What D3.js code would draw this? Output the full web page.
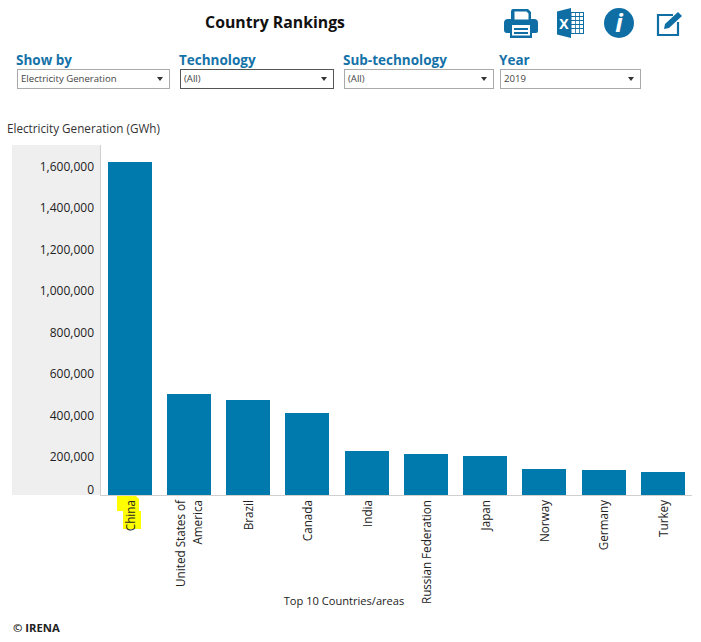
<!DOCTYPE html>
<html>
<head>
<meta charset="utf-8">
<title>Country Rankings</title>
<script src="https://cdn.jsdelivr.net/npm/d3@7/dist/d3.min.js"></script>
<style>
  html, body { margin: 0; padding: 0; background: #fff; }
  svg { display: block; }
  text { font-family: "Open Sans", sans-serif; }
</style>
</head>
<body>
<svg id="chart" width="701" height="642"></svg>
<script>
// Renewable electricity generation, top 10 countries/areas, GWh
const countries = ["China", "United States of America", "Brazil", "Canada", "India",
                   "Russian Federation", "Japan", "Norway", "Germany", "Turkey"];
const generation = [1605000, 487000, 458000, 395000, 212000, 198000, 188000, 125000, 120000, 111000];
const yTickValues = [0, 200000, 400000, 600000, 800000, 1000000, 1200000, 1400000, 1600000];

// Filter controls above the chart
const filterLabels = ["Show by", "Technology", "Sub-technology", "Year"];
const filterValues = ["Electricity Generation", "(All)", "(All)", "2019"];
const filterLefts = [17, 180, 344, 500];
const filterRights = [170, 334, 494, 641];

const BAR = "#0079ad", ICON = "#0f6fa5", HEAD = "#1572a8", INK = "#222";

const svg = d3.select("#chart");

const x = d3.scaleBand().domain(countries).range([100.3, 692.3])
  .paddingInner(0.257).paddingOuter(0.128);
const y = d3.scaleLinear().domain([0, 1686000]).range([495, 145]);

// Title
svg.append("text").attr("x", 275).attr("y", 28).attr("text-anchor", "middle")
  .attr("font-size", 15.8).attr("font-weight", 700).attr("fill", "#111").text("Country Rankings");

// Filters
const filter = svg.append("g").selectAll("g").data(filterLabels).join("g");
filter.append("text").attr("x", (d, i) => filterLefts[i] - 1).attr("y", 65)
  .attr("font-size", 13.5).attr("font-weight", 700).attr("fill", HEAD).text(d => d);
filter.append("rect")
  .attr("x", (d, i) => filterLefts[i] + 0.5).attr("y", 69.5)
  .attr("width", (d, i) => filterRights[i] - filterLefts[i] - 1).attr("height", 19)
  .attr("fill", "#fff").attr("stroke", (d, i) => i === 1 ? "#555" : "#aaa");
filter.append("text").attr("x", (d, i) => filterLefts[i] + 4).attr("y", 82)
  .attr("font-size", 9.6).attr("fill", "#444").text((d, i) => filterValues[i]);
filter.append("path")
  .attr("d", (d, i) => {
    const cx = filterRights[i] - 10;
    return `M${cx - 3},77 h6 l-3,4 z`;
  })
  .attr("fill", "#333");

// Toolbar icons
const icons = svg.append("g").attr("fill", ICON);
icons.append("path").attr("fill-rule", "evenodd").attr("d",
  "M513,9 h15 l3,3 v7 h3 q4,0 4,4 v8 q0,2 -2,2 h-4 v5 h-22 v-5 h-3 q-3,0 -3,-3 v-7 q0,-4 4,-4 h3 v-7 q0,-3 2,-3 z" +
  "M514.5,11.5 v8 h14 v-6 l-2,-2 z M512,25 v10.5 h18 v-10.5 z");
icons.append("rect").attr("x", 514).attr("y", 28).attr("width", 14).attr("height", 2);
icons.append("rect").attr("x", 514).attr("y", 32).attr("width", 14).attr("height", 2);
icons.append("path").attr("d", "M557,11.5 l14,-3.5 v30 l-14,-3.5 z");
icons.append("rect").attr("x", 571).attr("y", 12.5).attr("width", 12.5).attr("height", 21)
  .attr("fill", "#fff").attr("stroke", ICON).attr("stroke-width", 1);
[16.5, 20.5, 24.5, 28.5].forEach(v => icons.append("line").attr("x1", 571).attr("x2", 584).attr("y1", v).attr("y2", v)
  .attr("stroke", ICON).attr("stroke-width", 1));
[575.5, 579.5].forEach(v => icons.append("line").attr("x1", v).attr("x2", v).attr("y1", 12).attr("y2", 34)
  .attr("stroke", ICON).attr("stroke-width", 0.8));
icons.append("text").attr("x", 564).attr("y", 28.5).attr("text-anchor", "middle")
  .attr("font-size", 14).attr("font-weight", 700).attr("fill", "#fff").text("X");
icons.append("circle").attr("cx", 619).attr("cy", 23).attr("r", 15);
icons.append("text").attr("x", 619).attr("y", 32).attr("text-anchor", "middle")
  .attr("font-family", "Liberation Serif, serif").attr("font-size", 25).attr("font-weight", 700)
  .attr("font-style", "italic").attr("fill", "#fff").text("i");
icons.append("path").attr("fill", "none").attr("stroke", ICON).attr("stroke-width", 2.2)
  .attr("d", "M673,15 h-15 v20 h20 v-13");
icons.append("path").attr("d", "M665,24 l13,-12 l4,4 l-13,12 l-5,1 z");

// Shaded panel behind the value axis
svg.append("rect").attr("x", 12).attr("y", 145).attr("width", 88).attr("height", 350).attr("fill", "#efefef");

// Bars
svg.append("g").attr("shape-rendering", "crispEdges").selectAll("rect").data(countries).join("rect")
  .attr("x", d => x(d)).attr("width", x.bandwidth())
  .attr("y", (d, i) => y(generation[i]))
  .attr("height", (d, i) => y(0) - y(generation[i]))
  .attr("fill", BAR);

// Axis rules
svg.append("line").attr("x1", 100.5).attr("x2", 100.5).attr("y1", 145).attr("y2", 495.5)
  .attr("stroke", "#d0d0d0");
svg.append("line").attr("x1", 100).attr("x2", 692).attr("y1", 495.5).attr("y2", 495.5)
  .attr("stroke", "#d0d0d0");

// Value axis: labels sit just below their gridline, with zero kept above the baseline
const yAxis = d3.axisLeft(y).tickValues(yTickValues).tickSize(0).tickPadding(0)
  .tickFormat(d3.format(","));
const yG = svg.append("g").attr("transform", "translate(94,0)").call(yAxis);
yG.select(".domain").remove();
yG.selectAll("text").attr("font-size", 12).attr("fill", INK)
  .attr("font-family", '"Open Sans", sans-serif')
  .attr("dy", "0.32em")
  .attr("y", d => d === 0 ? -5 : 3.5);

svg.append("text").attr("x", 7).attr("y", 133).attr("font-size", 11.7).attr("fill", "#333")
  .text("Electricity Generation (GWh)");

// Yellow marker strokes behind the first category label
svg.append("path").attr("fill", "#ffff00")
  .attr("d", "M117,496 h19 l3,3 v12 h2 v18 h-18 v-18 h-6 z");

// Category labels, read upward and wrapped to two lines when long
const wrapLines = d => d === "United States of America" ? ["United States of", "America"] : [d];
const lineGap = 17;
const xLabels = svg.append("g").selectAll("text").data(countries).join("text")
  .attr("transform", d => {
    const cx = x(d) + x.bandwidth() / 2;
    return `translate(${cx + 0.7},500) rotate(-90)`;
  })
  .attr("text-anchor", "end").attr("font-size", 11.7).attr("fill", INK);
xLabels.each(function (d) {
  const lines = wrapLines(d);
  d3.select(this).selectAll("tspan").data(lines).join("tspan")
    .attr("x", 0)
    .attr("y", (l, i) => (i - (lines.length - 1) / 2) * lineGap)
    .attr("dy", "0.36em")
    .text(l => l);
});

svg.append("text").attr("x", 344).attr("y", 605).attr("text-anchor", "middle")
  .attr("font-size", 11.1).attr("fill", INK).text("Top 10 Countries/areas");

svg.append("text").attr("x", 13).attr("y", 632).attr("font-size", 11.3).attr("font-weight", 700)
  .attr("fill", "#222").text("© IRENA");
</script>
</body>
</html>
